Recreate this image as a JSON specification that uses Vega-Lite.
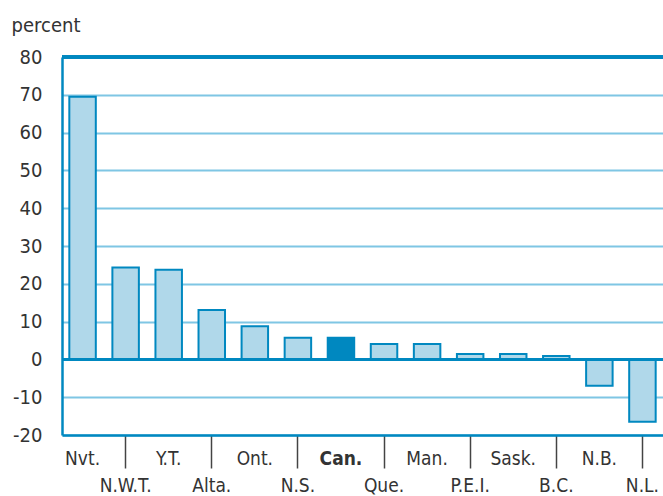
{
  "$schema": "https://vega.github.io/schema/vega-lite/v6.json",
  "width": 601,
  "height": 378,
  "autosize": {"type": "none"},
  "padding": {"left": 62, "top": 57, "right": 0, "bottom": 61},
  "title": {"text": "percent", "anchor": "start", "frame": "bounds", "font": "DejaVu Sans Condensed", "fontSize": 20, "fontWeight": "normal", "color": "#333333", "offset": 11, "dx": -1},
  "config": {"view": {"stroke": null}, "font": "DejaVu Sans Condensed"},
  "data": {"values": [
    {"prov": "Nvt.", "value": 69.5},
    {"prov": "N.W.T.", "value": 24.3},
    {"prov": "Y.T.", "value": 23.7},
    {"prov": "Alta.", "value": 13.1},
    {"prov": "Ont.", "value": 8.8},
    {"prov": "N.S.", "value": 5.7},
    {"prov": "Can.", "value": 5.7},
    {"prov": "Que.", "value": 4.1},
    {"prov": "Man.", "value": 4.1},
    {"prov": "P.E.I.", "value": 1.4},
    {"prov": "Sask.", "value": 1.4},
    {"prov": "B.C.", "value": 0.9},
    {"prov": "N.B.", "value": -7.0},
    {"prov": "N.L.", "value": -16.5}
  ]},
  "layer": [
    {
      "mark": {"type": "bar", "stroke": "#0088c0", "strokeWidth": 2},
      "encoding": {
        "x": {
          "field": "prov", "type": "nominal", "sort": null,
          "scale": {"paddingInner": 0.385, "paddingOuter": 0.17},
          "axis": {
            "title": null, "labelAngle": 0, "labelOverlap": false, "labelBound": false,
            "domainColor": "#0088c0", "domainWidth": 2.5,
            "tickColor": "#444444", "tickWidth": 1.5, "tickSize": 33,
            "tickOpacity": {"condition": {"test": "indexof(['N.W.T.','Alta.','N.S.','Que.','P.E.I.','B.C.','N.L.'], datum.value) >= 0", "value": 1}, "value": 0},
            "labelPadding": {"condition": {"test": "indexof(['N.W.T.','Alta.','N.S.','Que.','P.E.I.','B.C.','N.L.'], datum.value) >= 0", "value": 8}, "value": -19},
            "labelFontWeight": {"condition": {"test": "datum.value === 'Can.'", "value": "bold"}, "value": "normal"},
            "labelFont": "DejaVu Sans Condensed", "labelFontSize": 19, "labelColor": "#333333"
          }
        },
        "y": {
          "field": "value", "type": "quantitative",
          "scale": {"domain": [-20, 80], "nice": false},
          "axis": {
            "title": null, "values": [-20, -10, 0, 10, 20, 30, 40, 50, 60, 70, 80],
            "labelExpr": "toString(datum.value)", "labelOverlap": false,
            "ticks": false, "domainColor": "#0088c0", "domainWidth": 2.5,
            "gridColor": "#7fc6e4", "gridWidth": 2, "labelPadding": 20,
            "labelFont": "DejaVu Sans Condensed", "labelFontSize": 20, "labelColor": "#333333"
          }
        },
        "fill": {"condition": {"test": "datum.prov === 'Can.'", "value": "#0088c0"}, "value": "#b0d8ea"}
      }
    },
    {
      "mark": {"type": "rule", "color": "#0088c0", "strokeWidth": 3},
      "encoding": {"y": {"datum": 0, "type": "quantitative", "scale": {"domain": [-20, 80], "nice": false},
        "axis": {
            "title": null, "values": [-20, -10, 0, 10, 20, 30, 40, 50, 60, 70, 80],
            "labelExpr": "toString(datum.value)", "labelOverlap": false,
            "ticks": false, "domainColor": "#0088c0", "domainWidth": 2.5,
            "gridColor": "#7fc6e4", "gridWidth": 2, "labelPadding": 20,
            "labelFont": "DejaVu Sans Condensed", "labelFontSize": 20, "labelColor": "#333333"
          }}}
    },
    {
      "mark": {"type": "rule", "color": "#0088c0", "strokeWidth": 2.5},
      "encoding": {"y": {"datum": 80, "type": "quantitative", "scale": {"domain": [-20, 80], "nice": false},
        "axis": {
            "title": null, "values": [-20, -10, 0, 10, 20, 30, 40, 50, 60, 70, 80],
            "labelExpr": "toString(datum.value)", "labelOverlap": false,
            "ticks": false, "domainColor": "#0088c0", "domainWidth": 2.5,
            "gridColor": "#7fc6e4", "gridWidth": 2, "labelPadding": 20,
            "labelFont": "DejaVu Sans Condensed", "labelFontSize": 20, "labelColor": "#333333"
          }}}
    }
  ]
}
